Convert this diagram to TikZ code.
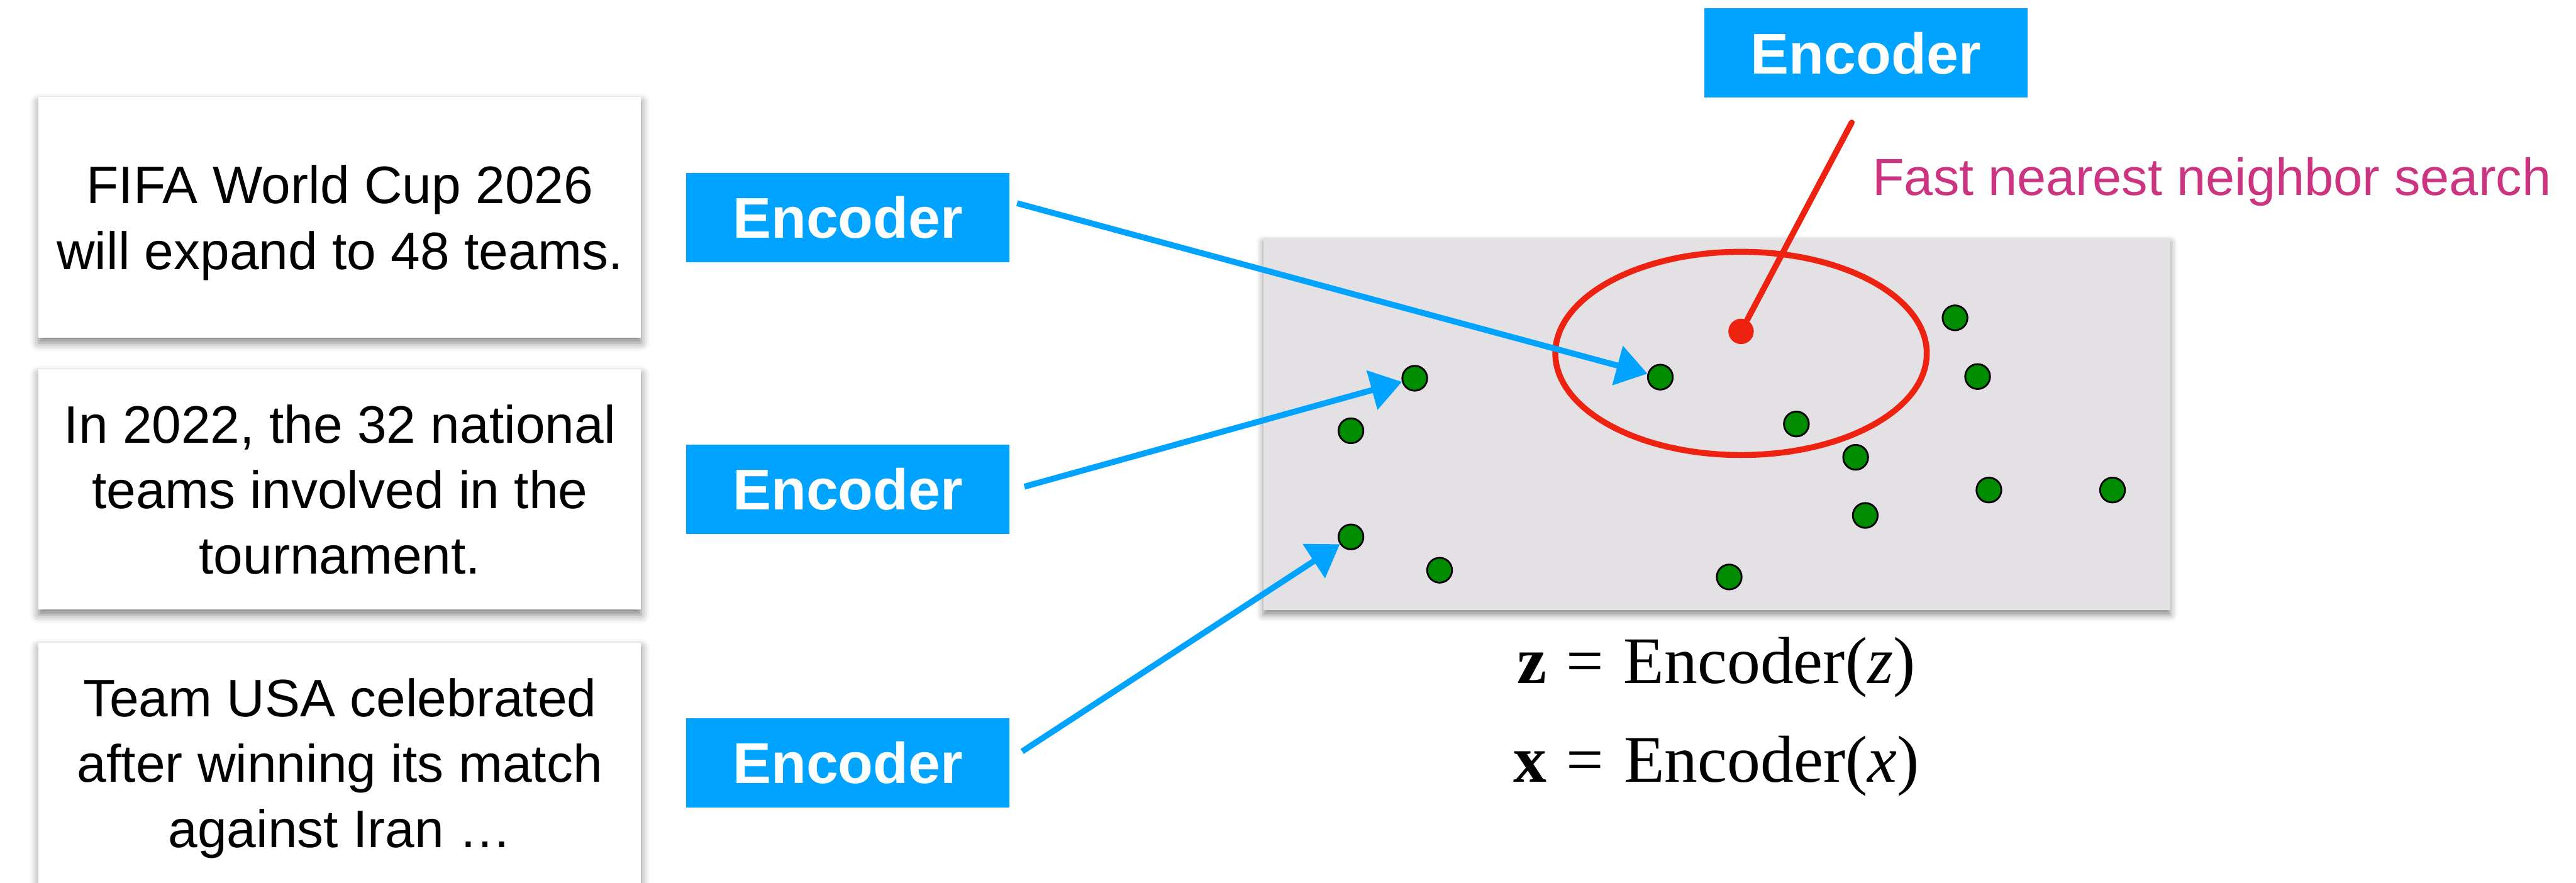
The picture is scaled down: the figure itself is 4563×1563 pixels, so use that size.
\documentclass[tikz,border=0pt]{standalone}
\usepackage{fontspec}
\setmainfont{Liberation Sans}
\newfontfamily\eqfont{Liberation Serif}
\usetikzlibrary{positioning,arrows.meta,shadows.blur}

\definecolor{encblue}{RGB}{0,163,255}
\definecolor{ptgreen}{RGB}{0,140,0}
\definecolor{qred}{RGB}{238,34,17}
\definecolor{labelpink}{RGB}{204,51,128}
\definecolor{spacegray}{RGB}{227,225,228}

\begin{document}
\begin{tikzpicture}[x=0.1mm, y=-0.1mm, inner sep=0pt,
  passage/.style={fill=white, minimum width=10.67cm, minimum height=4.26cm, align=center,
    text depth=0pt,
    blur shadow={shadow xshift=0pt, shadow yshift=-0.9mm, shadow blur radius=1.5mm, shadow opacity=50},
    font=\fontsize{26.6}{33}\selectfont},
  encoder/.style={fill=encblue, text=white, minimum width=5.72cm, minimum height=1.58cm,
    font=\fontsize{29}{34}\selectfont\bfseries},
  point/.style={circle, draw=black, line width=0.9pt, fill=ptgreen, minimum size=4.4mm},
  query/.style={circle, fill=qred, minimum size=4.5mm},
  pull/.style={draw=encblue, line width=3pt, -{Triangle[length=5.5mm,width=7mm]}},
  hand/.style={draw=qred, line width=3pt, line cap=round},
  formula/.style={anchor=base, font=\eqfont\fontsize{33.5}{40}\selectfont}]

\useasboundingbox (0,0) rectangle (4563,1563);

% the three passages and their encoders
\node[passage] (psg1) at (602,385) {FIFA World Cup 2026\\will expand to 48 teams.};
\node[passage] (psg2) at (602,867) {In 2022, the 32 national\\teams involved in the\\tournament.};
\node[passage] (psg3) at (602,1351) {Team USA celebrated\\after winning its match\\against Iran …};

\node[encoder, right=0.79cm of psg1] (enc1) {Encoder};
\node[encoder, right=0.79cm of psg2] (enc2) {Encoder};
\node[encoder, right=0.79cm of psg3] (enc3) {Encoder};
\node[encoder] (enc0) at (3305,94) {Encoder};

% embedding space
\node[fill=spacegray, minimum width=16.07cm, minimum height=6.6cm,
  blur shadow={shadow xshift=0pt, shadow yshift=-0.8mm, shadow blur radius=1.2mm, shadow opacity=45}]
  (space) at (3041,751) {};

\foreach \px/\py [count=\i] in {3463/563, 2506/670, 2941/668, 3503/667, 2393/763,
    3182/751, 3287/810, 3523/868, 3742/868, 3304/913, 2393/951, 2550/1010, 3063/1022}
  \node[point] (p\i) at (\px,\py) {};

% query point and its search radius
\node[query] (q) at (3084,587) {};
\coordinate (nn) at (3084,626);
\draw[hand] (nn) ellipse [x radius=329, y radius=180];
\coordinate (qtop) at (3280,217);
\draw[hand] (q) -- (qtop);

\node[anchor=base west, text=labelpink, font=\fontsize{26.3}{30}\selectfont] (lbl) at (3316,346)
  {Fast nearest neighbor search};

\draw[pull] ([xshift=1.3mm,yshift=2.5mm]enc1.east) -- (p3);
\draw[pull] ([xshift=2.6mm,yshift=0.5mm]enc2.east) -- (p2);
\draw[pull] ([xshift=2.2mm,yshift=2mm]enc3.east) -- (p11);

\node[formula] (eqz) at (3040,1210)
  {{\bfseries z}\hspace{0.3em}=\hspace{0.3em}Encoder({\itshape z})};
\node[formula] (eqx) at (3040,1385)
  {{\bfseries x}\hspace{0.3em}=\hspace{0.3em}Encoder({\itshape x})};

\end{tikzpicture}
\end{document}
